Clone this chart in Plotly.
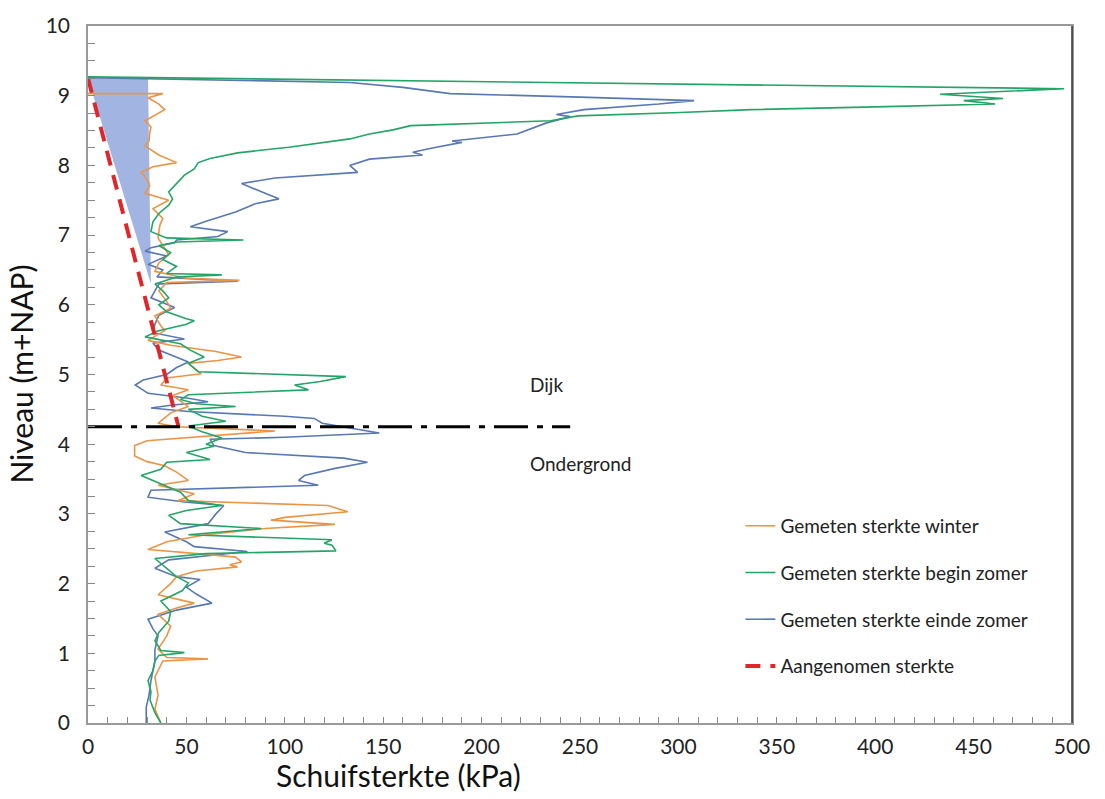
import plotly.graph_objects as go

# ---------------- data ----------------
winter_y = [9.03, 9.03, 8.97, 8.88, 8.80, 8.70, 8.64, 8.55, 8.47, 8.35, 8.28, 8.15, 8.04, 7.98, 7.90,
            7.80, 7.71, 7.60, 7.50, 7.38, 7.24, 7.14, 6.96, 6.85, 6.72, 6.60, 6.48, 6.38, 6.35, 6.32,
            6.20, 6.05, 5.95, 5.84, 5.70, 5.63, 5.49, 5.42, 5.33, 5.25, 5.20, 5.16, 5.01, 4.95, 4.85,
            4.78, 4.70, 4.54, 4.45, 4.30, 4.25, 4.19, 4.12, 4.05, 3.98, 3.83, 3.75, 3.69, 3.60, 3.48,
            3.41, 3.29, 3.19, 3.12, 3.03, 2.95, 2.91, 2.85, 2.79, 2.70, 2.60, 2.49, 2.42, 2.38, 2.31,
            2.27, 2.24, 2.18, 2.10, 2.00, 1.84, 1.72, 1.65, 1.56, 1.39, 1.25, 1.06, 0.94, 0.92, 0.89,
            0.66, 0.40, 0.20, 0.00]
winter_x = [0, 38, 30.5, 36, 39, 33, 29, 32, 31.4, 31, 29, 36, 45, 33, 27,
            30, 31.4, 29, 41, 33, 38, 36.5, 35.6, 38, 41, 36, 34, 50, 77, 40,
            36, 40, 42, 34, 37, 39, 30.5, 42, 65, 78, 66, 51, 57.5, 40, 37,
            51, 43, 51, 42, 35.6, 45, 95, 60, 30, 23.7, 23.7, 30, 39, 45, 51,
            35.6, 54, 45.8, 122, 132, 100, 93, 125.5, 90, 60, 40, 30.5, 60, 75, 78,
            72, 76, 55, 45, 42, 35.6, 54, 45, 35.6, 42, 40, 35.6, 40, 61, 38,
            34, 35.6, 34, 37]

begin_y = [9.27, 9.10, 9.02, 8.96, 8.93, 8.88, 8.84, 8.80, 8.76, 8.71, 8.64, 8.57, 8.51, 8.45, 8.38,
           8.26, 8.18, 8.10, 8.04, 7.95, 7.86, 7.71, 7.62, 7.52, 7.43, 7.31, 7.19, 7.05, 6.96, 6.93,
           6.90, 6.85, 6.75, 6.65, 6.55, 6.45, 6.43, 6.40, 6.30, 6.20, 6.10, 6.00, 5.90, 5.80, 5.77,
           5.72, 5.62, 5.54, 5.44, 5.35, 5.25, 5.16, 5.04, 4.97, 4.90, 4.85, 4.80, 4.78, 4.71, 4.64,
           4.58, 4.54, 4.50, 4.40, 4.33, 4.26, 4.18, 4.09, 4.00, 3.97, 3.88, 3.78, 3.74, 3.64, 3.55,
           3.45, 3.31, 3.19, 3.12, 3.05, 2.98, 2.86, 2.79, 2.70, 2.63, 2.58, 2.55, 2.47, 2.43, 2.36,
           2.24, 2.10, 2.01, 1.90, 1.75, 1.60, 1.46, 1.30, 1.18, 1.04, 1.01, 0.97, 0.89, 0.75, 0.61,
           0.45, 0.33, 0.15, 0.00]
begin_x = [0, 496, 433, 465, 445, 461, 400, 337, 301, 249, 235, 164, 155, 143, 133,
           102, 76, 62, 56, 54, 49, 44, 41, 43, 41, 36, 33, 32, 40, 79,
           45, 36, 42, 38, 45, 40, 68, 45, 34, 38, 41, 36, 40, 50, 54,
           50, 35, 29, 47, 52, 59, 51, 56, 131, 118, 105, 110, 112, 51, 47,
           55, 75, 51, 58, 70, 51, 58, 68, 60, 64, 50, 62, 40, 37, 27,
           35, 47, 51, 68, 50, 41, 47, 88, 51, 124, 120, 124, 126, 60, 34,
           39, 45, 51, 48, 37, 42, 41, 36, 34, 37, 49, 36, 34, 33, 30.5,
           32, 31.5, 34, 37]

einde_y = [9.26, 9.19, 9.12, 9.03, 8.98, 8.93, 8.88, 8.80, 8.73, 8.70, 8.61, 8.45, 8.35, 8.33, 8.25,
           8.19, 8.15, 8.09, 8.00, 7.90, 7.82, 7.74, 7.60, 7.52, 7.45, 7.33, 7.20, 7.12, 7.05, 6.98,
           6.93, 6.89, 6.82, 6.77, 6.70, 6.58, 6.50, 6.40, 6.34, 6.30, 6.20, 6.10, 5.96, 5.85, 5.72,
           5.60, 5.51, 5.45, 5.35, 5.18, 5.10, 5.00, 4.92, 4.85, 4.73, 4.66, 4.61, 4.56, 4.52, 4.47,
           4.40, 4.37, 4.30, 4.22, 4.16, 4.10, 4.07, 3.98, 3.88, 3.80, 3.74, 3.65, 3.55, 3.48, 3.41,
           3.34, 3.24, 3.17, 3.12, 3.00, 2.86, 2.74, 2.60, 2.53, 2.46, 2.34, 2.22, 2.10, 2.06, 1.95,
           1.85, 1.72, 1.62, 1.49, 1.35, 1.25, 1.05, 0.89, 0.61, 0.40, 0.23, 0.00]
einde_x = [0, 133, 160, 184, 250, 308, 290, 252, 238, 245, 233, 218, 185, 190, 175,
           165, 170, 143, 133, 137, 95, 78, 90, 97, 85, 75, 60, 52, 71, 66,
           45, 44, 32, 29, 40, 30.5, 38, 35, 76, 36, 34, 32, 44, 36, 34,
           33, 49, 33, 36, 51, 45, 40, 28, 24, 30.5, 51, 61, 42, 32, 51,
           100, 115, 119, 135, 148, 100, 62, 64, 80, 130, 142, 125, 110, 107, 117,
           32, 30.5, 49, 69, 65, 61, 39, 50, 54, 81, 41, 34, 45, 57, 50,
           55, 63, 45, 30.5, 33, 35.6, 34, 34, 32, 31, 29.6, 29.6]

assumed_x = [0, 46]
assumed_y = [9.25, 4.25]

fill_x = [0, 30.5, 32]
fill_y = [9.25, 9.25, 6.3]

boundary_x = [0, 245]
boundary_y = [4.25, 4.25]

labels = ["Gemeten sterkte winter", "Gemeten sterkte begin zomer",
          "Gemeten sterkte einde zomer", "Aangenomen sterkte"]

x_ticks = [0, 50, 100, 150, 200, 250, 300, 350, 400, 450, 500]
y_ticks = [0, 1, 2, 3, 4, 5, 6, 7, 8, 9, 10]

# ---------------- figure ----------------
FONT = "Lato, 'Open Sans', sans-serif"
fig = go.Figure()

fig.add_trace(go.Scatter(x=fill_x, y=fill_y, fill="toself", mode="lines",
                         line=dict(width=0), fillcolor="#A2B4E2",
                         showlegend=False, hoverinfo="skip"))

fig.add_trace(go.Scatter(x=einde_x, y=einde_y, mode="lines", name=labels[2],
                         line=dict(color="#5878B4", width=1.6),
                         legendgroup="c", legendrank=3))
fig.add_trace(go.Scatter(x=winter_x, y=winter_y, mode="lines", name=labels[0],
                         line=dict(color="#EC9445", width=1.6),
                         legendgroup="a", legendrank=1))
fig.add_trace(go.Scatter(x=begin_x, y=begin_y, mode="lines", name=labels[1],
                         line=dict(color="#23A567", width=1.6),
                         legendgroup="b", legendrank=2))
fig.add_trace(go.Scatter(x=assumed_x, y=assumed_y, mode="lines", name=labels[3],
                         line=dict(color="#E0262B", width=4, dash="15px,10px"),
                         legendgroup="d", legendrank=4))
fig.add_trace(go.Scatter(x=boundary_x, y=boundary_y, mode="lines",
                         line=dict(color="black", width=3, dash="34px,9px,6px,9px"),
                         showlegend=False, hoverinfo="skip"))

fig.add_annotation(x=233, y=4.85, text="Dijk", showarrow=False,
                   font=dict(family=FONT, size=19, color="#222"), xanchor="center")
fig.add_annotation(x=250, y=3.72, text="Ondergrond", showarrow=False,
                   font=dict(family=FONT, size=19, color="#222"), xanchor="center")

fig.add_annotation(xref="paper", yref="paper", x=0.316, y=-0.074,
                   text="Schuifsterkte (kPa)", showarrow=False,
                   font=dict(family=FONT, size=30, color="#111"),
                   xanchor="center", yanchor="middle")
fig.add_annotation(xref="paper", yref="paper", x=-0.069, y=0.5,
                   text="Niveau (m+NAP)", showarrow=False, textangle=-90,
                   font=dict(family=FONT, size=30, color="#111"),
                   xanchor="center", yanchor="middle")

# darker right border
fig.add_shape(type="line", xref="paper", yref="paper", x0=1, x1=1, y0=0, y1=1,
              line=dict(color="#333", width=1.5))

fig.update_layout(
    width=1105, height=799,
    margin=dict(l=88, r=33, t=17, b=76),
    paper_bgcolor="white", plot_bgcolor="white",
    font=dict(family=FONT, size=21, color="#222"),
    showlegend=True,
    legend=dict(x=0.663, y=0.31, xanchor="left", yanchor="top",
                font=dict(family=FONT, size=19, color="#222"),
                bgcolor="rgba(0,0,0,0)", tracegroupgap=19, itemwidth=30),
    xaxis=dict(range=[0, 500], tickvals=x_ticks, ticks="inside", ticklen=6,
               tickcolor="#888", showline=True, linecolor="#999", linewidth=1.5,
               mirror=True, showgrid=False, zeroline=False,
               minor=dict(dtick=10, ticks="inside", ticklen=6, tickcolor="#888"),
               ticklabelstandoff=4,
               tickfont=dict(family=FONT, size=21, color="#222")),
    yaxis=dict(range=[0, 10], tickvals=y_ticks, ticks="inside", ticklen=7,
               tickcolor="#888", showline=True, linecolor="#999", linewidth=1.5,
               mirror=True, showgrid=False, zeroline=False,
               minor=dict(dtick=0.25, ticks="inside", ticklen=7, tickcolor="#888"),
               ticklabelstandoff=12,
               tickfont=dict(family=FONT, size=21, color="#222")),
)

fig.write_html("out.html")
